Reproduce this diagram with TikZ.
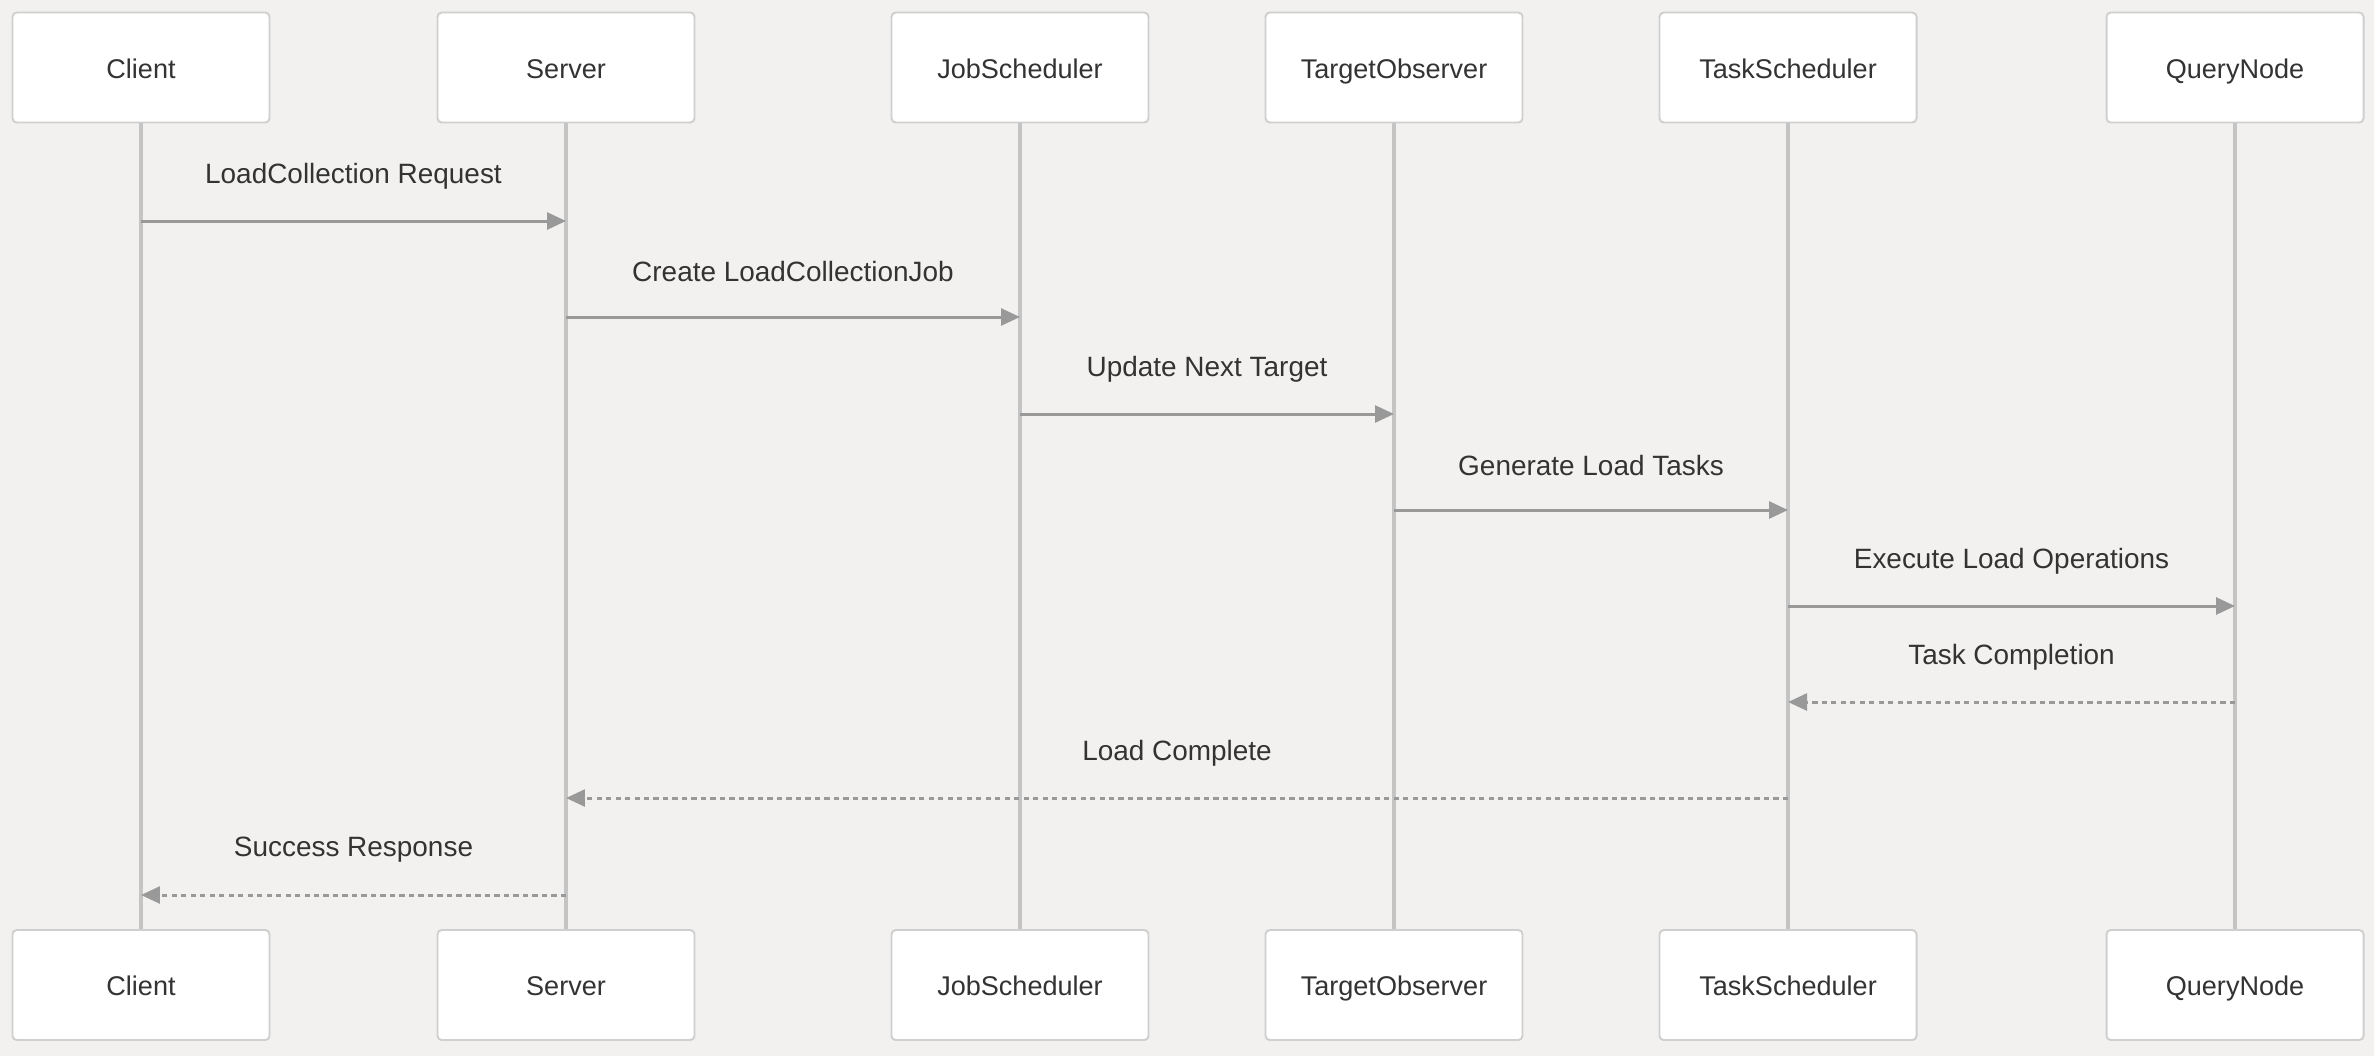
\documentclass[tikz,border=0pt]{standalone}
\usepackage{fontspec}
\setmainfont{Liberation Sans}
\usetikzlibrary{arrows.meta}
\definecolor{bgcol}{HTML}{F2F1EF}
\definecolor{boxline}{HTML}{CFCFCF}
\definecolor{lifeln}{HTML}{C4C4C4}
\definecolor{arrowcol}{HTML}{999999}
\definecolor{txt}{HTML}{333333}
\tikzset{
  actor/.style={draw=boxline, fill=white, rounded corners=1.2pt, line width=0.55pt,
    minimum width=2.57cm, minimum height=1.10cm, text=txt, font=\fontsize{7.7}{9}\selectfont,
    text height=1.6ex, text depth=0.45ex},
  life/.style={draw=lifeln, line width=0.9pt},
  msg/.style={draw=arrowcol, line width=0.85pt, -{Triangle[length=5.4pt,width=4.8pt]}},
  reply/.style={msg, dash pattern=on 1.5pt off 1.2pt},
  lbl/.style={text=txt, font=\fontsize{7.95}{9}\selectfont, yshift=0.45cm}
}
\begin{document}
\begin{tikzpicture}
\useasboundingbox[fill=bgcol] (0,0) rectangle (23.74,-10.56);
\def\top{-0.675}
\def\bot{-9.85}
% participants
\node[actor] (cliTop) at (1.41, \top) {Client};
\node[actor] (srvTop) at (5.66, \top) {Server};
\node[actor] (jobTop) at (10.20, \top) {JobScheduler};
\node[actor] (tgtTop) at (13.94, \top) {TargetObserver};
\node[actor] (tskTop) at (17.88, \top) {TaskScheduler};
\node[actor] (qnTop) at (22.35, \top) {QueryNode};
\node[actor] (cliBot) at (1.41, \bot) {Client};
\node[actor] (srvBot) at (5.66, \bot) {Server};
\node[actor] (jobBot) at (10.20, \bot) {JobScheduler};
\node[actor] (tgtBot) at (13.94, \bot) {TargetObserver};
\node[actor] (tskBot) at (17.88, \bot) {TaskScheduler};
\node[actor] (qnBot) at (22.35, \bot) {QueryNode};

% lifelines
\draw[life] (cliTop) -- (cliBot);
\draw[life] (srvTop) -- (srvBot);
\draw[life] (jobTop) -- (jobBot);
\draw[life] (tgtTop) -- (tgtBot);
\draw[life] (tskTop) -- (tskBot);
\draw[life] (qnTop) -- (qnBot);

% messages
\draw[msg] (cliTop |- 0,-2.21) -- node[lbl] {LoadCollection Request} (srvTop |- 0,-2.21); % client to server
\draw[msg] (srvTop |- 0,-3.17) -- node[lbl] {Create LoadCollectionJob} (jobTop |- 0,-3.17); % server to job
\draw[msg] (jobTop |- 0,-4.14) -- node[lbl] {Update Next Target} (tgtTop |- 0,-4.14); % job to target
\draw[msg] (tgtTop |- 0,-5.10) -- node[lbl] {Generate Load Tasks} (tskTop |- 0,-5.10); % target to task
\draw[msg] (tskTop |- 0,-6.06) -- node[lbl] {Execute Load Operations} (qnTop |- 0,-6.06); % task to query node
\draw[reply] (qnTop |- 0,-7.02) -- node[lbl] {Task Completion} (tskTop |- 0,-7.02); % query node to task
\draw[reply] (tskTop |- 0,-7.98) -- node[lbl] {Load Complete} (srvTop |- 0,-7.98); % task to server
\draw[reply] (srvTop |- 0,-8.95) -- node[lbl] {Success Response} (cliTop |- 0,-8.95); % server to client
\end{tikzpicture}
\end{document}
